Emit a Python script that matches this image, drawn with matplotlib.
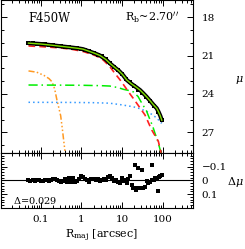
import matplotlib
matplotlib.use('Agg')
import matplotlib.pyplot as plt
from matplotlib.ticker import MultipleLocator, FixedLocator, FixedFormatter, LogLocator, NullFormatter

plt.rcParams['font.family'] = 'DejaVu Serif'
plt.rcParams['mathtext.fontset'] = 'dejavuserif'

# surface brightness profile (arcsec, mag/arcsec^2)
R_prof = [0.05, 0.063, 0.079, 0.1, 0.126, 0.158, 0.2, 0.251, 0.316, 0.398, 0.501, 0.631,
          0.794, 1.0, 1.26, 1.58, 2.0, 2.51, 3.16, 3.98, 5.01, 6.31, 7.94, 10.0, 12.6,
          15.8, 20.0, 25.1, 31.6, 39.8, 50.1, 63.1, 79.4, 95.0]
mu_prof = [20.03, 20.05, 20.08, 20.1, 20.13, 20.17, 20.2, 20.24, 20.27, 20.31, 20.35, 20.39,
           20.43, 20.47, 20.56, 20.68, 20.78, 20.92, 21.07, 21.3, 21.57, 21.86, 22.13, 22.45, 22.82,
           23.1, 23.36, 23.66, 23.9, 24.2, 24.55, 24.9, 25.4, 26.0]

# fitted components
R_tot = [0.05, 0.1, 0.2, 0.3, 0.5, 0.8, 1.1, 1.6, 2.2, 2.9, 4, 5.1, 6.5, 8.5, 10.5, 13.1,
         17, 22, 28, 33.6, 40, 50, 60, 72, 80, 88, 96]
mu_tot = [20.03, 20.1, 20.2, 20.27, 20.35, 20.43, 20.5, 20.68, 20.84, 21.0, 21.3, 21.62,
          21.9, 22.2, 22.5, 22.9, 23.2, 23.45, 23.7, 23.95, 24.2, 24.55, 24.85, 25.12, 25.4,
          25.7, 26.05]
R_bulge = [0.05, 0.1, 0.3, 0.6, 1.1, 1.6, 2.2, 2.9, 3.5, 5, 6.75, 9, 11.9, 15, 19, 26, 37,
           54, 79, 92]
mu_bulge = [20.25, 20.3, 20.4, 20.52, 20.68, 20.85, 21.0, 21.18, 21.36, 21.85, 22.4, 22.9,
            23.44, 23.9, 24.34, 24.95, 25.64, 26.8, 27.7, 28.6]
R_comp2 = [0.05, 0.3, 1, 3, 5, 8, 11, 15, 19, 25, 31, 40, 49, 57, 65, 75, 83, 92]
mu_comp2 = [23.3, 23.31, 23.32, 23.35, 23.38, 23.5, 23.64, 23.73, 23.83, 24.2, 24.73, 25.3,
            26.0, 26.5, 27.06, 27.6, 28.1, 28.6]
R_comp3 = [0.05, 0.5, 2, 5, 10, 19, 28, 40, 55, 70, 87, 95]
mu_comp3 = [24.65, 24.66, 24.68, 24.72, 24.85, 25.0, 25.15, 25.35, 25.6, 25.85, 26.15, 26.3]
R_nuc = [0.05, 0.08, 0.12, 0.16, 0.19, 0.22, 0.25, 0.28, 0.31, 0.34, 0.37, 0.40]
mu_nuc = [22.2, 22.3, 22.55, 22.8, 23.05, 23.6, 24.45, 25.1, 25.7, 26.7, 27.7, 28.6]

# residuals
R_res = [0.05, 0.056, 0.063, 0.071, 0.079, 0.089, 0.1, 0.112, 0.126, 0.141, 0.158, 0.178,
         0.2, 0.224, 0.251, 0.282, 0.316, 0.355, 0.398, 0.447, 0.501, 0.562, 0.631, 0.708,
         0.794, 0.891, 1.0, 1.12, 1.26, 1.41, 1.58, 1.78, 2.0, 2.24, 2.51, 2.82, 3.16, 3.55,
         3.98, 4.47, 5.01, 5.62, 6.31, 7.08, 7.94, 8.91, 10.0,
         10.8, 12.0, 13.1, 14.3, 15.8, 17.4, 19.0, 21.0, 22.0, 23.5, 25.4, 27.0, 28.5, 30.6,
         33.0, 36.0, 40.7, 45.0, 49.0, 54.0, 54.5, 60.0, 66.0, 72.0, 79.0, 80.0, 87.0, 95.0]
d_mu = [0.0, 0.002, -0.002, 0.003, 0.0, -0.003, 0.002, 0.004, 0.0, -0.004, 0.002, -0.006,
        -0.008, -0.01, -0.004, 0.006, 0.01, 0.004, -0.012, 0.012, -0.015, 0.008, -0.02, 0.01,
        0.006, -0.01, -0.03, -0.025, -0.01, -0.005, 0.008, -0.012, -0.008, 0.0, -0.01, 0.006,
        -0.006, -0.012, -0.003, -0.028, -0.032, -0.02, 0.006, -0.002, 0.012, 0.02, -0.016,
        0.007, -0.005, 0.02, -0.01, -0.03, 0.03, 0.056, -0.113, 0.068, 0.055, -0.09, 0.058,
        0.052, -0.077, 0.055, 0.05, 0.007, 0.02, 0.015, -0.113, 0.0, -0.005, -0.015, -0.02,
        0.08, -0.025, -0.03, -0.04]

fig = plt.figure(figsize=(2.45, 2.49), dpi=100)
ax = fig.add_axes([0.004, 0.386, 0.784, 0.612])
axr = fig.add_axes([0.004, 0.165, 0.784, 0.221], sharex=ax)

ax.plot(R_nuc, mu_nuc, color='#ff9922', lw=1.1, dashes=(4, 1.5, 1, 1.5, 1, 1.5, 1, 1.5))
ax.plot(R_comp3, mu_comp3, color='#3399ff', lw=1.1, dashes=(1, 2))
ax.plot(R_comp2, mu_comp2, color='#00ee00', lw=1.1, dashes=(6, 2.5, 1, 2.5))
ax.plot(R_bulge, mu_bulge, color='#ff2020', lw=1.2, dashes=(4, 2.5))
ax.plot(R_prof, mu_prof, 's', color='k', ms=2.2, mew=0)
ax.plot(R_tot, mu_tot, color='k', lw=3.0, solid_capstyle='round')
ax.plot(R_tot, mu_tot, color='#80e000', lw=1.0)

ax.set_xscale('log')
ax.set_xlim(0.0105, 565)
ax.set_ylim(28.6, 16.7)
ax.yaxis.set_major_locator(MultipleLocator(3))
ax.yaxis.set_minor_locator(MultipleLocator(1))

axr.plot(R_res, d_mu, 's', color='k', ms=2.8, mew=0)
axr.axhline(0, color='k', lw=0.8)
axr.set_ylim(0.2, -0.2)
axr.yaxis.set_major_locator(FixedLocator([-0.1, 0, 0.1]))
axr.yaxis.set_major_formatter(FixedFormatter(['\u22120.1', '0', '0.1']))
axr.yaxis.set_minor_locator(MultipleLocator(0.02))

axr.xaxis.set_major_locator(FixedLocator([0.01, 0.1, 1, 10, 100]))
axr.xaxis.set_major_formatter(FixedFormatter(['', '0.1', '1', '10', '100']))
axr.xaxis.set_minor_locator(LogLocator(base=10, subs=range(2, 10), numticks=20))
axr.xaxis.set_minor_formatter(NullFormatter())

for a in (ax, axr):
    a.tick_params(which='both', direction='in', top=True, bottom=True, left=True, right=True,
                  labelleft=False, labelright=True, labelsize=7.5, pad=6, width=0.7)
    a.tick_params(which='major', length=4.5)
    a.tick_params(which='minor', length=2.5)
    for s in a.spines.values():
        s.set_linewidth(0.8)
ax.tick_params(labelbottom=False)
axr.tick_params(axis='x', pad=5)

ax.text(0.14, 0.885, 'F450W', transform=ax.transAxes, fontsize=8.3, va='center', ha='left')
ax.text(0.925, 0.885, r'R$_{\rm b}$~2.70$^{\prime\prime}$', transform=ax.transAxes,
        fontsize=8, va='center', ha='right')
axr.text(0.061, 0.14, r'$\Delta$=0.029', transform=axr.transAxes, fontsize=7, va='center',
         ha='left')

fig.text(0.978, 0.679, r'$\mu$', fontsize=8, ha='center', va='center')
fig.text(0.962, 0.269, r'$\Delta\mu$', fontsize=8, ha='center', va='center')
fig.text(0.416, 0.052, r'R$_{\rm maj}$ [arcsec]', fontsize=8, ha='center', va='center')

fig.savefig('out.png', dpi=100)
